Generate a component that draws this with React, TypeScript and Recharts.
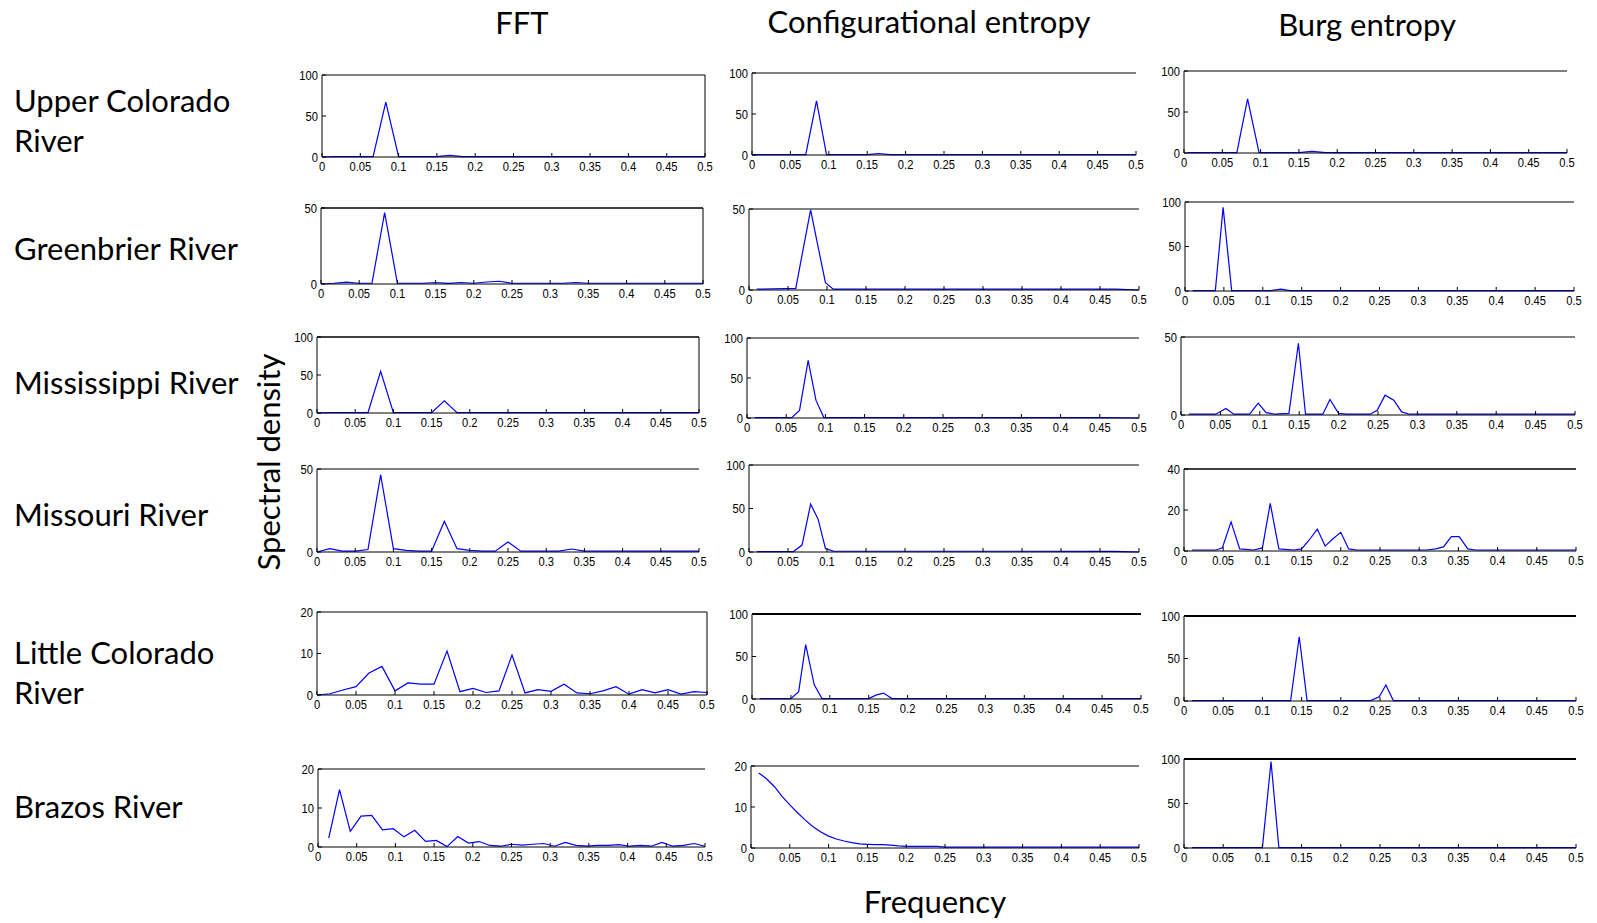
import React from "react";
import { LineChart, Line, XAxis, YAxis } from "recharts";

// frequency grids
const freq60 = [0, 0.0167, 0.0333, 0.05, 0.0667, 0.0833, 0.1, 0.1167, 0.1333, 0.15, 0.1667, 0.1833, 0.2, 0.2167, 0.2333, 0.25, 0.2667, 0.2833, 0.3, 0.3167, 0.3333, 0.35, 0.3667, 0.3833, 0.4, 0.4167, 0.4333, 0.45, 0.4667, 0.4833, 0.5];
const freq72 = [0.0139, 0.0278, 0.0417, 0.0556, 0.0694, 0.0833, 0.0972, 0.1111, 0.125, 0.1389, 0.1528, 0.1667, 0.1806, 0.1944, 0.2083, 0.2222, 0.2361, 0.25, 0.2639, 0.2778, 0.2917, 0.3056, 0.3194, 0.3333, 0.3472, 0.3611, 0.375, 0.3889, 0.4028, 0.4167, 0.4306, 0.4444, 0.4583, 0.4722, 0.4861, 0.5];

const xTicks = [0, 0.05, 0.1, 0.15, 0.2, 0.25, 0.3, 0.35, 0.4, 0.45, 0.5];

const columns = ["FFT", "Configurational entropy", "Burg entropy"];

// FFT spectra
const fftUpperColorado = [0, 0.5, 0.5, 0.5, 0.5, 67, 0.5, 0.5, 0.5, 0.5, 2, 0.5, 0.5, 0.5, 0.5, 0.5, 0.5, 0.5, 0.5, 0.5, 0.5, 0.5, 0.5, 0.5, 0.5, 0.5, 0.5, 0.5, 0.5, 0.5, 0.5];
const fftGreenbrier = [0, 0.5, 1.2, 0.5, 0.5, 47, 0.5, 0.5, 0.5, 1, 0.4, 1, 0.5, 1.3, 1.8, 0.5, 0.5, 0.5, 0.5, 0.5, 1, 0.5, 0.5, 0.5, 0.5, 0.5, 0.5, 0.5, 0.5, 0.5, 0.5];
const fftMississippi = [0, 0.5, 0.5, 0.5, 0.5, 55, 0.5, 0.5, 0.5, 0.5, 16, 0.5, 0.5, 0.5, 0.5, 0.5, 0.5, 0.5, 0.5, 0.5, 0.5, 0.5, 0.5, 0.5, 0.5, 0.5, 0.5, 0.5, 0.5, 0.5, 0.5];
const fftMissouri = [0, 2, 0.5, 0.5, 1.5, 46.5, 2, 1, 0.5, 0.5, 18.5, 2, 1, 0.5, 0.5, 6, 0.5, 0.5, 0.5, 0.5, 1.8, 0.5, 0.5, 0.5, 0.5, 0.5, 0.5, 0.5, 0.5, 0.5, 0.5];
const fftLittleColorado = [0, 0.3, 1.2, 2, 5.3, 6.9, 1, 2.9, 2.6, 2.6, 10.6, 0.8, 1.6, 0.6, 1, 9.6, 0.5, 1.3, 0.9, 2.6, 0.5, 0.3, 1, 2, 0.2, 1.3, 0.5, 1.3, 0.2, 0.8, 0.6];
const fftBrazos = [2.3, 14.7, 4.0, 7.9, 8.1, 4.4, 4.7, 2.6, 4.3, 1.45, 1.7, 0.1, 2.7, 1.0, 1.4, 0.4, 0.2, 0.7, 0.5, 0.7, 0.9, 0.2, 1.2, 0.4, 0.2, 0.4, 0.4, 0.6, 0.2, 0.4, 0.2, 1.2, 0.2, 0.4, 0.9, 0.2];

// configurational entropy spectra
const confUpperColoradoF = [0, 0.07, 0.084, 0.097, 0.15, 0.165, 0.18, 0.5];
const confUpperColoradoV = [0.5, 0.5, 66, 0.5, 0.5, 1.8, 0.5, 0.5];
const confGreenbrierF = [0.01, 0.06, 0.067, 0.079, 0.088, 0.098, 0.108, 0.47, 0.5];
const confGreenbrierV = [0.5, 1, 19, 49.5, 28, 4.5, 0.5, 0.5, 0];
const confMississippiF = [0.01, 0.057, 0.067, 0.078, 0.088, 0.098, 0.452, 0.5];
const confMississippiV = [0.5, 0.5, 9.5, 72, 22, 0.5, 0.5, 0];
const confMissouriF = [0.01, 0.057, 0.068, 0.079, 0.0885, 0.098, 0.108, 0.47, 0.5];
const confMissouriV = [0.5, 0.5, 8, 55, 38, 4, 1, 0.8, 0];
const confLittleColoradoF = [0.01, 0.05, 0.06, 0.069, 0.08, 0.09, 0.15, 0.16, 0.169, 0.18, 0.5];
const confLittleColoradoV = [0.5, 0.5, 8.7, 64, 16.7, 0.5, 0.5, 4.8, 7, 0.5, 0.5];
const confBrazosF = [0.01, 0.02, 0.03, 0.04, 0.05, 0.06, 0.07, 0.08, 0.09, 0.1, 0.11, 0.12, 0.13, 0.14, 0.15, 0.16, 0.17, 0.18, 0.19, 0.2, 0.24, 0.25, 0.5];
const confBrazosV = [18.3, 16.9, 15.0, 12.6, 10.5, 8.6, 6.8, 5.2, 3.9, 2.9, 2.2, 1.7, 1.3, 1.0, 0.9, 0.8, 0.8, 0.7, 0.5, 0.4, 0.4, 0.2, 0.2];

// Burg entropy spectra
const burgUpperColoradoF = [0.005, 0.069, 0.083, 0.098, 0.15, 0.167, 0.185, 0.5];
const burgUpperColoradoV = [0.5, 0.5, 66, 0.5, 0.5, 2, 0.5, 0.5];
const burgGreenbrierF = [0.01, 0.039, 0.049, 0.06, 0.11, 0.123, 0.135, 0.5];
const burgGreenbrierV = [0.5, 0.5, 94, 0.5, 0.5, 2, 0.5, 0.5];
const burgMississippiF = [0.01, 0.044, 0.057, 0.067, 0.087, 0.098, 0.108, 0.12, 0.137, 0.149, 0.158, 0.18, 0.189, 0.2, 0.21, 0.24, 0.249, 0.259, 0.27, 0.28, 0.29, 0.5];
const burgMississippiV = [0.5, 0.5, 4.2, 0.5, 0.5, 7.6, 1.5, 0.5, 1, 46, 0.5, 0.5, 10, 1, 0.5, 0.5, 3, 12.7, 9.5, 2, 0.5, 0.5];
const burgMissouriF = [0.01, 0.041, 0.049, 0.06, 0.071, 0.089, 0.1, 0.11, 0.121, 0.14, 0.15, 0.159, 0.17, 0.18, 0.19, 0.2, 0.21, 0.22, 0.31, 0.321, 0.331, 0.341, 0.351, 0.362, 0.372, 0.5];
const burgMissouriV = [0.5, 0.5, 1.6, 14.2, 1, 0.5, 1.5, 23.2, 1, 0.5, 1, 5, 10.7, 2.4, 6, 9.1, 1, 0.5, 0.5, 1, 2, 7, 7, 1, 0.5, 0.5];
const burgLittleColoradoF = [0.01, 0.136, 0.147, 0.157, 0.238, 0.249, 0.2575, 0.267, 0.5];
const burgLittleColoradoV = [0.5, 0.5, 75.6, 0.5, 0.5, 5, 18.8, 0.5, 0.5];
const burgBrazosF = [0.01, 0.1, 0.111, 0.121, 0.5];
const burgBrazosV = [0.5, 0.5, 97, 0.5, 0.5];

const zip = (f: number[], v: number[]) => f.map((x, i) => ({ f: x, v: v[i] }));

type Box = { x: number; y: number; w: number; h: number };
type PanelDef = {
  box: Box;
  data: { f: number; v: number }[];
  yTicks: number[];
  right?: boolean;
  topW?: number;
};

const panels: PanelDef[] = [
  // Upper Colorado
  { box: { x: 322, y: 75, w: 383, h: 82 }, data: zip(freq60, fftUpperColorado), yTicks: [0, 50, 100], right: true },
  { box: { x: 752, y: 73, w: 384, h: 82 }, data: zip(confUpperColoradoF, confUpperColoradoV), yTicks: [0, 50, 100] },
  { box: { x: 1184, y: 71, w: 383, h: 82 }, data: zip(burgUpperColoradoF, burgUpperColoradoV), yTicks: [0, 50, 100] },
  // Greenbrier
  { box: { x: 321, y: 208, w: 382, h: 76 }, data: zip(freq60, fftGreenbrier), yTicks: [0, 50], right: true, topW: 1.4 },
  { box: { x: 749, y: 209, w: 390, h: 81 }, data: zip(confGreenbrierF, confGreenbrierV), yTicks: [0, 50] },
  { box: { x: 1185, y: 202, w: 389, h: 89 }, data: zip(burgGreenbrierF, burgGreenbrierV), yTicks: [0, 50, 100] },
  // Mississippi
  { box: { x: 317, y: 337, w: 382, h: 76 }, data: zip(freq60, fftMississippi), yTicks: [0, 50, 100], right: true, topW: 1.5 },
  { box: { x: 747, y: 338, w: 392, h: 80 }, data: zip(confMississippiF, confMississippiV), yTicks: [0, 50, 100] },
  { box: { x: 1181, y: 337, w: 394, h: 78 }, data: zip(burgMississippiF, burgMississippiV), yTicks: [0, 50] },
  // Missouri
  { box: { x: 317, y: 469, w: 382, h: 83 }, data: zip(freq60, fftMissouri), yTicks: [0, 50] },
  { box: { x: 749, y: 465, w: 390, h: 87 }, data: zip(confMissouriF, confMissouriV), yTicks: [0, 50, 100] },
  { box: { x: 1184, y: 469, w: 392, h: 82 }, data: zip(burgMissouriF, burgMissouriV), yTicks: [0, 20, 40], topW: 1.4 },
  // Little Colorado
  { box: { x: 317, y: 612, w: 390, h: 83 }, data: zip(freq60, fftLittleColorado), yTicks: [0, 10, 20], right: true },
  { box: { x: 752, y: 614, w: 389, h: 85 }, data: zip(confLittleColoradoF, confLittleColoradoV), yTicks: [0, 50, 100], topW: 1.8 },
  { box: { x: 1184, y: 616, w: 392, h: 85 }, data: zip(burgLittleColoradoF, burgLittleColoradoV), yTicks: [0, 50, 100], topW: 1.8 },
  // Brazos
  { box: { x: 318, y: 769, w: 387, h: 78 }, data: zip(freq72, fftBrazos), yTicks: [0, 10, 20] },
  { box: { x: 751, y: 766, w: 388, h: 82 }, data: zip(confBrazosF, confBrazosV), yTicks: [0, 10, 20] },
  { box: { x: 1184, y: 759, w: 392, h: 89 }, data: zip(burgBrazosF, burgBrazosV), yTicks: [0, 50, 100], topW: 2 },
];

const rowLabels: { lines: string[]; y: number[] }[] = [
  { lines: ["Upper Colorado", "River"], y: [100, 140] },
  { lines: ["Greenbrier River"], y: [248] },
  { lines: ["Mississippi River"], y: [382] },
  { lines: ["Missouri River"], y: [514] },
  { lines: ["Little Colorado", "River"], y: [652, 692] },
  { lines: ["Brazos River"], y: [806] },
];

// narrow MATLAB-like tick text
function XTick(props: any) {
  const { x, y, payload } = props;
  return (
    <g transform={`translate(${x},${y}) scale(0.86,1)`}>
      <text x={0} y={0} dy="0.75em" textAnchor="middle" fontSize={13} fill="#000" fontFamily="Liberation Sans, Arial, sans-serif">
        {payload.value}
      </text>
    </g>
  );
}

function YTick(props: any) {
  const { x, y, payload } = props;
  return (
    <g transform={`translate(${x},${y}) scale(0.86,1)`}>
      <text x={0} y={0} dy="0.36em" textAnchor="end" fontSize={13} fill="#000" fontFamily="Liberation Sans, Arial, sans-serif">
        {payload.value}
      </text>
    </g>
  );
}

function Panel({ p }: { p: PanelDef }) {
  const ml = 44;
  const mt = 10;
  const mr = 16;
  const xh = 26;
  const yMax = p.yTicks[p.yTicks.length - 1];
  const { box } = p;
  return (
    <div style={{ position: "absolute", left: box.x - ml, top: box.y - mt }}>
      <LineChart
        width={box.w + ml + mr}
        height={box.h + mt + xh}
        data={p.data}
        margin={{ top: mt - 1, right: mr - 1, left: 0, bottom: 0 }}
      >
        <XAxis
          dataKey="f"
          type="number"
          domain={[0, 0.5]}
          ticks={xTicks}
          interval={0}
          height={xh}
          tickSize={-4}
          tickMargin={8}
          axisLine={{ stroke: "#000" }}
          tickLine={{ stroke: "#000" }}
          tick={<XTick />}
        />
        <XAxis
          xAxisId="top"
          orientation="top"
          type="number"
          domain={[0, 0.5]}
          ticks={xTicks}
          interval={0}
          height={1}
          tick={false}
          tickSize={-4}
          axisLine={{ stroke: "#000", strokeWidth: p.topW ?? 1 }}
          tickLine={{ stroke: "#000" }}
        />
        <YAxis
          type="number"
          domain={[0, yMax]}
          ticks={p.yTicks}
          interval={0}
          width={ml}
          tickSize={-4}
          tickMargin={8}
          axisLine={{ stroke: "#000" }}
          tickLine={{ stroke: "#000" }}
          tick={<YTick />}
        />
        <YAxis
          yAxisId="right"
          orientation="right"
          type="number"
          domain={[0, yMax]}
          ticks={p.yTicks}
          interval={0}
          width={1}
          tick={false}
          tickSize={-4}
          axisLine={p.right ? { stroke: "#000" } : false}
          tickLine={{ stroke: "#000" }}
        />
        <Line
          dataKey="v"
          type="linear"
          stroke="#0000ff"
          strokeWidth={1.2}
          dot={false}
          isAnimationActive={false}
        />
      </LineChart>
    </div>
  );
}

const labelStyle: React.CSSProperties = {
  position: "absolute",
  fontSize: 31,
  lineHeight: 1,
  whiteSpace: "nowrap",
  color: "#000",
};

export default function App() {
  const colX = [522, 929, 1367];
  const colY = [22, 21, 24];
  return (
    <div
      style={{
        position: "absolute",
        left: 0,
        top: 0,
        width: 1597,
        height: 923,
        background: "#fff",
        fontFamily: "Lato, 'Open Sans', sans-serif",
        overflow: "hidden",
      }}
    >
      {columns.map((c, i) => (
        <div key={c} style={{ ...labelStyle, left: colX[i], top: colY[i], transform: "translate(-50%, -50%)" }}>
          {c}
        </div>
      ))}
      {rowLabels.map((r) =>
        r.lines.map((t, j) => (
          <div key={t + j} style={{ ...labelStyle, left: 14, top: r.y[j], transform: "translateY(-50%)" }}>
            {t}
          </div>
        ))
      )}
      <div style={{ ...labelStyle, left: 268, top: 462, transform: "translate(-50%, -50%) rotate(-90deg)" }}>
        Spectral density
      </div>
      <div style={{ ...labelStyle, left: 935, top: 901, transform: "translate(-50%, -50%)" }}>Frequency</div>
      {panels.map((p, i) => (
        <Panel key={i} p={p} />
      ))}
    </div>
  );
}
